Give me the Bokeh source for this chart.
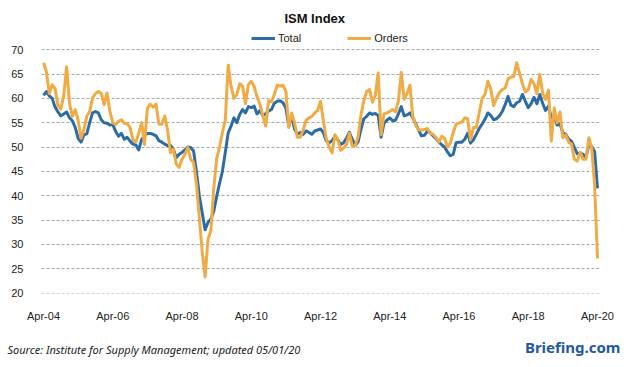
from bokeh.plotting import figure
from bokeh.layouts import column
from bokeh.models import Range1d, FixedTicker, Label, Legend, LegendItem
from bokeh.embed import file_html
from bokeh.resources import INLINE

# Monthly index, Apr-2004 (0) .. Apr-2020 (192)
total = [
    60.6, 61.4, 60.5, 60.0, 58.2, 57.2, 56.4, 56.8, 57.2, 56.0, 55.4, 54.0,
    51.8, 51.0, 52.5, 52.7, 55.0, 57.0, 57.3, 57.0, 55.6, 55.0, 54.9, 54.5,
    54.6, 53.2, 52.2, 52.8, 51.6, 52.0, 51.2, 50.6, 50.4, 49.4, 51.5, 52.4,
    52.8, 52.8, 52.6, 52.3, 51.3, 51.0, 50.6, 50.3, 50.3, 49.6, 47.8, 48.5,
    48.9, 49.4, 50.0, 49.9, 49.2, 45.0, 40.0, 36.5, 33.0, 34.5, 35.2, 36.8,
    39.8, 42.5, 45.0, 48.9, 52.9, 54.3, 56.0, 55.0, 56.7, 57.7, 57.0, 58.3,
    58.1, 58.4, 56.8, 57.5, 56.5, 56.8, 57.4, 57.7, 59.0, 59.4, 59.5, 59.1,
    58.0, 54.3, 56.4, 53.7, 52.6, 53.0, 52.6, 53.3, 53.0, 52.6, 53.3, 53.5,
    53.7, 53.0, 51.3, 50.9, 51.3, 52.2, 51.5, 50.5, 50.9, 51.8, 53.0, 51.6,
    50.3, 51.0, 53.6, 55.8, 56.3, 57.0, 56.7, 56.9, 56.5, 52.0, 54.9, 55.5,
    56.0, 55.4, 55.5, 56.8, 58.3, 56.4, 56.6, 57.0, 56.0, 54.8, 53.5, 52.3,
    52.4, 53.2, 53.0, 52.3, 51.8, 51.0, 50.5, 50.0, 49.0, 48.2, 48.5, 50.9,
    51.0, 51.0, 51.6, 52.8, 50.8, 51.5, 52.6, 53.8, 54.7, 55.7, 57.0, 56.5,
    55.6, 55.8, 56.4, 57.3, 58.7, 60.4, 58.6, 58.3, 59.1, 59.4, 60.8, 59.4,
    58.1, 58.9, 60.2, 58.9, 60.8, 59.0, 57.5, 58.4, 56.0, 56.4, 54.5, 54.8,
    52.9, 52.6, 51.6, 51.2, 49.9, 48.6, 48.8, 48.5, 47.8, 50.5, 50.1, 49.1,
    41.5,
]
orders = [
    67.3, 65.5, 61.0, 62.8, 62.0, 58.5, 57.8, 60.5, 66.5, 59.0, 56.3, 57.7,
    55.5, 51.8, 53.6, 56.3, 57.3, 60.1, 61.0, 61.4, 61.0, 58.7, 61.1, 57.3,
    55.0, 54.6, 55.3, 55.6, 54.9, 54.8, 54.0, 51.5, 51.0, 52.8, 55.0, 50.5,
    58.0, 58.8, 58.2, 58.8, 54.7, 54.7, 56.4, 53.5, 48.8, 49.6, 46.5, 45.8,
    47.5, 48.5, 49.9, 47.5, 46.8, 42.5, 35.5, 28.5, 23.3, 31.0, 32.8, 41.5,
    47.5, 50.0, 53.0, 55.5, 66.8, 62.5, 60.0, 60.8, 63.0, 62.5, 58.9, 62.8,
    63.5, 62.5, 60.3, 58.8, 56.5, 54.3, 59.5, 59.3, 60.8, 62.7, 62.5, 62.7,
    61.5, 54.0, 57.0, 55.0, 52.0, 52.0, 53.5, 55.5, 56.0, 56.3, 57.0, 57.5,
    59.4, 55.4, 51.8, 50.0, 48.8, 52.5, 51.5, 49.3, 49.8, 50.5, 52.8, 50.2,
    50.2, 52.0, 56.5, 59.5, 61.4, 61.8, 59.2, 60.6, 65.2, 52.5, 56.8, 57.0,
    57.3, 57.7, 57.2, 59.5, 65.3, 59.8, 61.0, 62.7, 56.2, 54.5, 53.5, 53.5,
    53.6, 53.8, 52.9, 52.6, 52.0, 51.0, 52.2, 51.8, 50.0, 50.8, 53.0, 54.7,
    54.9, 55.1, 56.0, 55.8, 51.5, 54.0, 54.0, 57.0, 60.0, 60.8, 63.5, 62.0,
    58.5, 60.0, 61.2, 61.8, 62.1, 64.0, 64.4, 64.5, 67.3, 65.2, 63.0, 61.3,
    61.8, 63.9, 63.0, 61.0, 64.9, 61.0, 59.8, 61.7, 51.2, 58.0, 55.0, 57.2,
    51.9, 52.5, 51.0, 50.6, 47.5, 47.1, 48.9, 47.5, 47.5, 51.9, 49.8, 42.2,
    27.1,
]
months = list(range(len(total)))

tick_pos = [0, 24, 48, 72, 96, 120, 144, 168, 192]
tick_labels = ["Apr-04", "Apr-06", "Apr-08", "Apr-10", "Apr-12",
               "Apr-14", "Apr-16", "Apr-18", "Apr-20"]
y_ticks = [20, 25, 30, 35, 40, 45, 50, 55, 60, 65, 70]

title_text = "ISM Index"
source_text = "Source: Institute for Supply Management; updated 05/01/20"
brand_text = "Briefing.com"

TOTAL_C = "#2C6CA5"
ORDERS_C = "#F0AB45"
FONT = "Liberation Sans"
W = 622

# ---------------- main chart ----------------
p = figure(width=W, height=324, output_backend="svg", toolbar_location=None,
           x_range=Range1d(-0.7, 192.7), y_range=Range1d(19.9, 79.49),
           min_border_left=41, min_border_right=W - 41 - 558, min_border_top=3,
           min_border_bottom=29)
p.frame_align = False
p.title.text = ""
p.outline_line_color = None
p.background_fill_color = "white"
p.border_fill_color = "white"

p.xgrid.visible = False
p.ygrid.grid_line_color = "#A3A8AC"
p.ygrid.grid_line_dash = "3 2"
p.ygrid.grid_line_width = 1

p.yaxis.ticker = FixedTicker(ticks=y_ticks)
p.xaxis.ticker = FixedTicker(ticks=tick_pos)
p.xaxis.major_label_overrides = {t: l for t, l in zip(tick_pos, tick_labels)}
for ax in (p.xaxis, p.yaxis):
    ax.axis_line_color = None
    ax.major_tick_line_color = None
    ax.minor_tick_line_color = None
    ax.major_label_text_font = FONT
    ax.major_label_text_font_size = "11px"
    ax.major_label_text_color = "#222222"
p.yaxis.major_label_standoff = 12
p.xaxis.major_label_standoff = 10

r1 = p.line(months, total, line_color=TOTAL_C, line_width=3, line_join="round")
r2 = p.line(months, orders, line_color=ORDERS_C, line_width=3, line_join="round")

legend = Legend(items=[LegendItem(label="Total", renderers=[r1]),
                       LegendItem(label="Orders", renderers=[r2])],
                orientation="horizontal", location=(210, 249),
                label_text_font=FONT, label_text_font_size="11px",
                label_text_color="#222222",
                glyph_width=24, glyph_height=12, label_height=12,
                label_standoff=3, spacing=46, padding=0, margin=0,
                border_line_color=None, background_fill_alpha=0)
p.add_layout(legend, "center")

p.add_layout(Label(x=94.0, y=76.4, text=title_text, text_align="center",
                   text_baseline="middle", text_font=FONT, text_font_size="13px",
                   text_font_style="bold", text_color="#111111"))

# ---------------- footer ----------------
f = figure(width=W, height=40, output_backend="svg", toolbar_location=None,
           x_range=Range1d(0, W), y_range=Range1d(0, 40),
           x_axis_location=None, y_axis_location=None,
           min_border_left=0, min_border_right=0, min_border_top=0,
           min_border_bottom=0)
f.frame_align = False
f.title.text = ""
f.outline_line_color = None
f.xgrid.visible = False
f.ygrid.visible = False
f.add_layout(Label(x=7, y=15, text=source_text, text_align="left",
                   text_baseline="middle", text_font="Noto Sans", text_font_size="11px",
                   text_font_style="italic", text_color="#222222"))
f.add_layout(Label(x=620, y=18, text=brand_text, text_align="right",
                   text_baseline="middle", text_font="Noto Sans", text_font_size="15px",
                   text_font_style="bold", text_color="#1F5A9C"))

layout = column(p, f, spacing=0)
open("out.html", "w").write(file_html(layout, INLINE))
